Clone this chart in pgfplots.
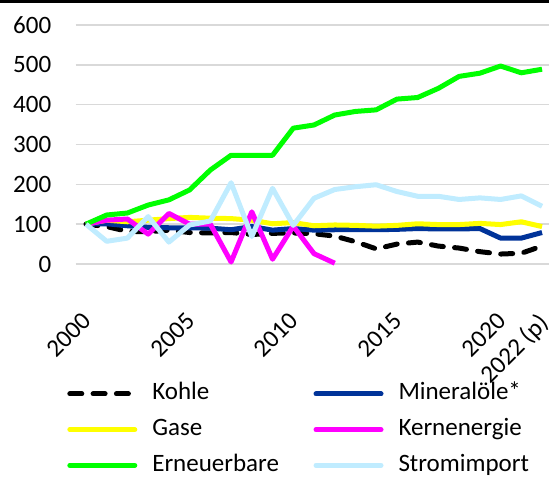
\documentclass[border=0pt]{standalone}
\usepackage{fontspec}
\setmainfont{Carlito}
\usepackage{pgfplots}
\usepackage{pgfplotstable}
\pgfplotsset{compat=1.18}

\definecolor{kohle}{RGB}{0,0,0}
\definecolor{oel}{RGB}{0,51,153}
\definecolor{gase}{RGB}{255,255,0}
\definecolor{kern}{RGB}{255,0,255}
\definecolor{ern}{RGB}{0,255,0}
\definecolor{strom}{RGB}{192,236,255}
\definecolor{gridgray}{RGB}{217,217,217}

% index 2000 = 100
\pgfplotstableread{
year kohle oel  gase ern strom
2000 100   100  100  100 100
2001 94    101  110  123 57
2002 82    96   106  128 65
2003 81    92   110  148 119
2004 85    91   114  161 55
2005 79    91   117  186 98
2006 78    90   115  236 108
2007 79    86   114  273 204
2008 74    94   110  273 69
2009 77    85   101  273 190
2010 78    89   104  341 97
2011 76    85   96   349 165
2012 70    86   98   374 187
2013 56    86   97   383 194
2014 38    86   95   387 199
2015 50    87   97   414 182
2016 55    89   101  418 170
2017 45    88   99   441 170
2018 40    88   99   471 162
2019 31    89   102  479 166
2020 25    65   99   497 162
2021 27    65   106  480 171
2022 45    79   94   489 145
}\maindata

\pgfplotstableread{
year kern
2000 100
2001 110
2002 113
2003 75
2004 127
2005 100
2006 100
2007 5
2008 131
2009 12
2010 95
2011 26
2012 2
}\kerndata

\begin{document}
\begin{tikzpicture}
\useasboundingbox (0,0) rectangle (274.5pt,238pt);
\clip (0,0) rectangle (274.5pt,238pt);
\draw[line width=1.5pt] (0,237.25pt) -- (274.5pt,237.25pt);
\begin{axis}[
  at={(37.8pt,106pt)}, anchor=south west,
  scale only axis, width=238.4pt, height=119.5pt,
  xmin=1999.5, xmax=2022.5, ymin=0, ymax=600,
  clip=false,
  font=\fontsize{12.5}{15}\selectfont,
  /pgf/number format/assume math mode=true,
  axis line style={draw=none},
  major tick style={draw=none},
  ymajorgrids, major grid style={gridgray, line width=0.75pt},
  ytick={0,100,...,600},
  yticklabel style={anchor=east, inner sep=0pt, xshift=-12pt},
  xtick={2000,2005,2010,2015,2020,2022},
  xticklabels={2000,2005,2010,2015,2020,2022 (p)},
  xticklabel style={xshift=-2.5pt, rotate=45, anchor=north east, inner sep=0pt},
  xticklabel shift=23.5pt,
  every axis plot/.append style={line width=2.5pt, line join=round, mark=none},
  legend columns=2,
  legend cell align=left,
  legend image code/.code={\draw[#1, line cap=round] (0pt,0pt) -- (32.5pt,0pt); \path (40pt,0pt);},
  legend style={at={(axis description cs:-0.0174,-0.4935)}, anchor=north west,
    draw=none, fill=none, inner sep=0pt, outer sep=0pt,
    column sep=0pt, row sep=5.85pt,
    nodes={inner sep=0pt, text height=9pt, text depth=3pt},
    font=\fontsize{12.5}{15}\selectfont},
]
\addplot[kohle, dash pattern=on 6pt off 5.65pt, line cap=round] table[x=year,y=kohle] {\maindata};
\addlegendentry{\makebox[80.6pt][l]{Kohle}}
\addplot[oel] table[x=year,y=oel] {\maindata};
\addlegendentry{Mineralöle*}
\addplot[gase] table[x=year,y=gase] {\maindata};
\addlegendentry{\makebox[80.6pt][l]{Gase}}
\addplot[kern] table[x=year,y=kern] {\kerndata};
\addlegendentry{Kernenergie}
\addplot[ern] table[x=year,y=ern] {\maindata};
\addlegendentry{\makebox[80.6pt][l]{Erneuerbare}}
\addplot[strom] table[x=year,y=strom] {\maindata};
\addlegendentry{Stromimport}
\end{axis}
\end{tikzpicture}
\end{document}
